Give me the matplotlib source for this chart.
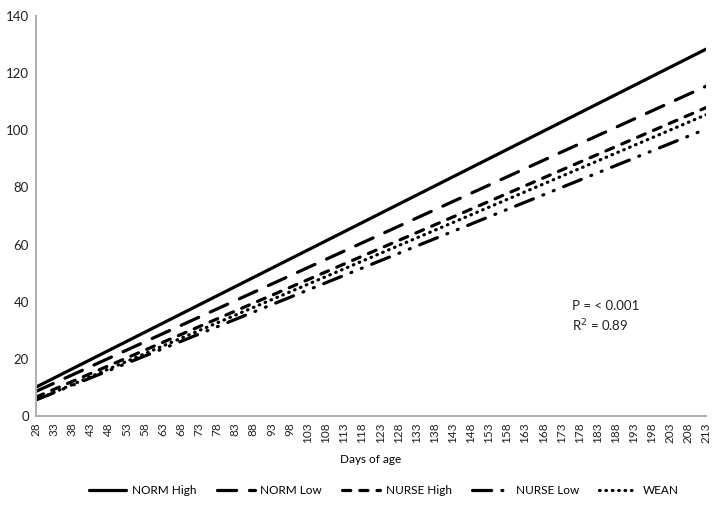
import matplotlib
matplotlib.use("Agg")
import matplotlib.pyplot as plt

# regression lines: value at first and last day
days = [28, 213]
norm_high = [10.0, 128.5]
norm_low = [8.5, 115.5]
nurse_high = [6.5, 108.0]
nurse_low = [5.5, 100.5]
wean = [5.5, 105.5]

tick_days = list(range(28, 214, 5))
y_ticks = list(range(0, 141, 20))

plt.rcParams["font.family"] = ["Lato", "DejaVu Sans"]

fig = plt.figure(figsize=(7.17, 5.07), dpi=100)
ax = fig.add_axes([0.050, 0.180, 0.935, 0.788])

lw = 2.3
ax.plot(days, norm_high, color="black", lw=lw, label="NORM High",
        solid_capstyle="round")
ax.plot(days, norm_low, color="black", lw=lw, label="NORM Low",
        dashes=(6, 4), dash_capstyle="round")
ax.plot(days, nurse_high, color="black", lw=lw, label="NURSE High",
        dashes=(2.6, 2.8), dash_capstyle="round")
ax.plot(days, nurse_low, color="black", lw=lw, label="NURSE Low",
        dashes=(6, 3.2, 0.3, 3.2, 0.3, 3.2), dash_capstyle="round")
ax.plot(days, wean, color="black", lw=lw, label="WEAN",
        dashes=(0.2, 1.8), dash_capstyle="round")

ax.set_xlim(28, 213)
ax.set_ylim(0, 140)
ax.set_xticks(tick_days)
ax.set_xticklabels([str(d) for d in tick_days], rotation=90, fontsize=8.5)
ax.set_yticks(y_ticks)
ax.set_yticklabels([str(v) for v in y_ticks], fontsize=9.5)
ax.tick_params(length=0, pad=5, colors="#222222")

for side in ["top", "right"]:
    ax.spines[side].set_visible(False)
for side in ["left", "bottom"]:
    ax.spines[side].set_color("#b0b0b0")
    ax.spines[side].set_linewidth(1.5)

ax.set_xlabel("Days of age", fontsize=8.5, labelpad=8)

ax.text(176, 38.5, "P = < 0.001", fontsize=9.5, color="#222222", va="center")
ax.text(176, 31.5, "R$^2$ = 0.89", fontsize=9.5, color="#222222", va="center")

leg = fig.legend(loc="lower center", bbox_to_anchor=(0.535, 0.0), ncol=5,
                 frameon=False, fontsize=8.5, handlelength=3.2,
                 columnspacing=1.7, handletextpad=0.5)

fig.savefig("out.png", dpi=100)
